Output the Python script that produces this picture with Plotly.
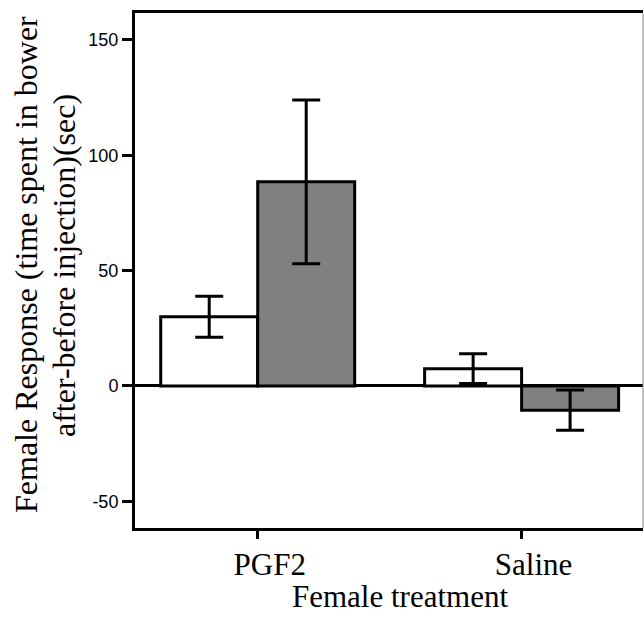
import plotly.graph_objects as go

categories = ["PGF2", "Saline"]
series_white = [30.0, 7.5]
err_white = [8.9, 6.5]
series_gray = [88.5, -10.5]
err_gray = [35.5, 8.7]
y_ticks = [-50, 0, 50, 100, 150]
y_tick_text = ["-50", "0", "50", "100", "150"]

W, H = 644, 617
L, R, T, B = 135, 1, 13, 89
pw, ph = W - L - R, H - T - B

fig = go.Figure()
fig.add_trace(go.Bar(
    x=categories, y=series_white, name="white",
    marker=dict(color="white", line=dict(color="black", width=3)),
    error_y=dict(type="data", array=err_white, color="black", thickness=3, width=14),
))
fig.add_trace(go.Bar(
    x=categories, y=series_gray, name="gray",
    marker=dict(color="#808080", line=dict(color="black", width=3)),
    error_y=dict(type="data", array=err_gray, color="black", thickness=3, width=14),
))

serif = "Liberation Serif"
fig.update_layout(
    width=W, height=H,
    margin=dict(l=L, r=R, t=T, b=B),
    paper_bgcolor="white", plot_bgcolor="white",
    barmode="group", bargap=0.265, bargroupgap=0,
    showlegend=False,
    xaxis=dict(
        range=[-0.465, 1.46], showline=True, linecolor="black", linewidth=3,
        mirror=True, ticks="outside", ticklen=8, tickwidth=3, tickcolor="black",
        tickfont=dict(family=serif, size=31, color="black"),
        ticklabelshift=12, ticklabelstandoff=-1, showgrid=False, zeroline=False,
    ),
    yaxis=dict(
        range=[-61.6, 161.7], tickvals=y_ticks, ticktext=y_tick_text,
        showline=True, linecolor="black",
        linewidth=3, ticks="outside", ticklen=10, tickwidth=3, tickcolor="black",
        tickfont=dict(family="Liberation Sans", size=18, color="black"),
        showgrid=False, zeroline=True, zerolinecolor="black", zerolinewidth=3,
    ),
    shapes=[dict(type="line", xref="paper", yref="paper", x0=1, x1=1, y0=0, y1=1,
                 line=dict(color="#888888", width=1))],
    annotations=[
        dict(text="Female Response (time spent in bower", textangle=-90,
             xref="paper", yref="paper", x=(26 - L) / pw, y=(H - B - 265) / ph,
             xanchor="center", yanchor="middle", showarrow=False,
             font=dict(family=serif, size=32, color="black")),
        dict(text="after-before injection)(sec)", textangle=-90,
             xref="paper", yref="paper", x=(64 - L) / pw, y=(H - B - 266) / ph,
             xanchor="center", yanchor="middle", showarrow=False,
             font=dict(family=serif, size=32, color="black")),
        dict(text="Female treatment",
             xref="paper", yref="paper", x=(400 - L) / pw, y=(H - B - 616) / ph,
             xanchor="center", yanchor="bottom", showarrow=False,
             font=dict(family=serif, size=31, color="black")),
    ],
)

fig.write_html("out.html")
